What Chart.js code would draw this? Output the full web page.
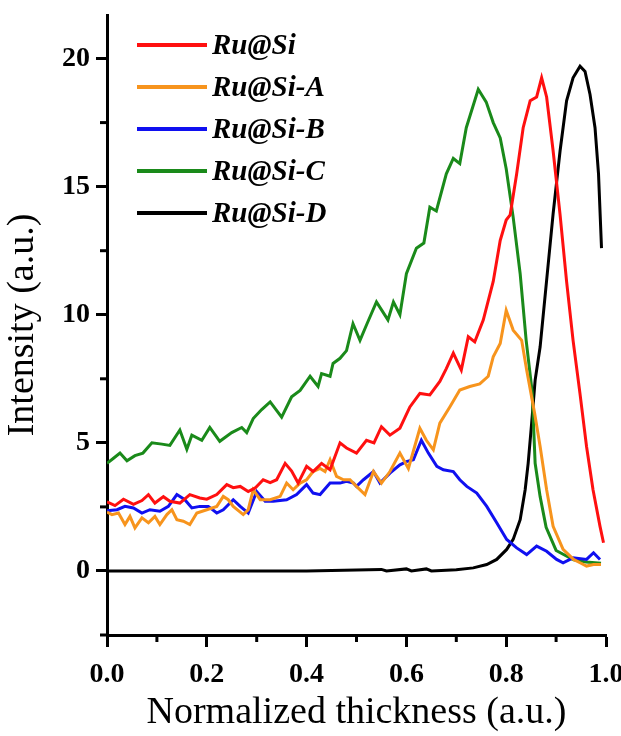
<!DOCTYPE html>
<html>
<head>
<meta charset="utf-8">
<script src="https://cdn.jsdelivr.net/npm/chart.js@4/dist/chart.umd.min.js"></script>
<style>
  html, body { margin: 0; padding: 0; background: #fff; }
  #wrap { width: 621px; height: 736px; }
</style>
</head>
<body>
<div id="wrap"><canvas id="thickStat"></canvas></div>
<script>
// series
let xRu  = [0.0, 0.016, 0.033, 0.053, 0.07, 0.083, 0.096, 0.113, 0.126, 0.146, 0.166, 0.186, 0.2, 0.22, 0.24, 0.253, 0.267, 0.283, 0.297, 0.313, 0.327, 0.34, 0.357, 0.37, 0.383, 0.4, 0.413, 0.43, 0.447, 0.467, 0.48, 0.5, 0.52, 0.535, 0.55, 0.567, 0.587, 0.607, 0.627, 0.647, 0.667, 0.68, 0.694, 0.71, 0.724, 0.737, 0.754, 0.774, 0.788, 0.8, 0.808, 0.821, 0.834, 0.848, 0.861, 0.871, 0.881, 0.894, 0.908, 0.921, 0.934, 0.948, 0.961, 0.974, 0.988, 0.995];
let yRu  = [2.7, 2.55, 2.8, 2.6, 2.75, 2.98, 2.65, 2.9, 2.72, 2.65, 2.98, 2.85, 2.8, 2.98, 3.37, 3.25, 3.3, 3.1, 3.24, 3.56, 3.45, 3.56, 4.2, 3.9, 3.43, 4.08, 3.88, 4.2, 3.95, 5.0, 4.8, 4.6, 5.1, 5.0, 5.63, 5.3, 5.57, 6.4, 6.93, 6.87, 7.4, 7.9, 8.5, 7.84, 9.14, 8.94, 9.79, 11.3, 12.9, 13.7, 13.9, 15.5, 17.3, 18.35, 18.5, 19.25, 18.5, 16.4, 13.9, 11.3, 9.0, 6.9, 4.86, 3.17, 1.74, 1.1];

let xRuA = [0.0, 0.01, 0.023, 0.036, 0.046, 0.056, 0.07, 0.083, 0.096, 0.106, 0.12, 0.13, 0.14, 0.153, 0.166, 0.18, 0.2, 0.22, 0.233, 0.243, 0.253, 0.273, 0.283, 0.293, 0.307, 0.327, 0.347, 0.36, 0.373, 0.387, 0.4, 0.413, 0.427, 0.437, 0.447, 0.46, 0.474, 0.487, 0.5, 0.517, 0.534, 0.55, 0.567, 0.587, 0.604, 0.627, 0.64, 0.654, 0.667, 0.687, 0.707, 0.727, 0.747, 0.764, 0.774, 0.788, 0.8, 0.814, 0.831, 0.841, 0.857, 0.868, 0.881, 0.894, 0.914, 0.935, 0.948, 0.961, 0.975, 0.99];
let yRuA = [2.3, 2.2, 2.26, 1.81, 2.13, 1.68, 2.07, 1.88, 2.13, 1.81, 2.2, 2.39, 2.0, 1.94, 1.81, 2.26, 2.39, 2.52, 2.91, 2.78, 2.52, 2.2, 2.39, 3.17, 2.78, 2.78, 2.91, 3.43, 3.17, 3.43, 3.56, 3.88, 4.0, 3.88, 4.34, 3.69, 3.56, 3.56, 3.3, 2.98, 3.88, 3.43, 3.88, 4.6, 4.0, 5.57, 5.1, 4.73, 5.77, 6.4, 7.06, 7.2, 7.3, 7.6, 8.36, 8.88, 10.17, 9.4, 9.0, 7.84, 6.15, 4.86, 3.17, 1.74, 0.84, 0.45, 0.32, 0.19, 0.25, 0.25];

let xRuB = [0.0, 0.02, 0.036, 0.053, 0.07, 0.086, 0.106, 0.123, 0.14, 0.156, 0.17, 0.186, 0.203, 0.22, 0.233, 0.253, 0.267, 0.283, 0.3, 0.317, 0.333, 0.36, 0.38, 0.4, 0.413, 0.427, 0.447, 0.467, 0.48, 0.494, 0.5, 0.514, 0.534, 0.547, 0.567, 0.587, 0.6, 0.614, 0.63, 0.644, 0.661, 0.674, 0.694, 0.707, 0.721, 0.741, 0.761, 0.781, 0.801, 0.821, 0.841, 0.861, 0.881, 0.901, 0.914, 0.934, 0.961, 0.975, 0.988];
let yRuB = [2.35, 2.39, 2.52, 2.46, 2.26, 2.39, 2.33, 2.52, 2.98, 2.78, 2.46, 2.52, 2.52, 2.26, 2.39, 2.78, 2.52, 2.26, 3.1, 2.72, 2.72, 2.78, 2.98, 3.37, 3.04, 2.98, 3.43, 3.43, 3.5, 3.43, 3.3, 3.56, 3.88, 3.43, 3.82, 4.14, 4.27, 4.34, 5.1, 4.6, 4.08, 3.95, 3.88, 3.56, 3.3, 3.04, 2.52, 1.88, 1.23, 0.9, 0.64, 0.97, 0.77, 0.45, 0.32, 0.51, 0.45, 0.71, 0.45];

let xRuC = [0.0, 0.013, 0.026, 0.04, 0.056, 0.072, 0.09, 0.11, 0.126, 0.146, 0.16, 0.17, 0.19, 0.206, 0.226, 0.25, 0.27, 0.28, 0.293, 0.31, 0.327, 0.35, 0.37, 0.387, 0.407, 0.423, 0.43, 0.447, 0.453, 0.467, 0.48, 0.493, 0.507, 0.52, 0.54, 0.563, 0.574, 0.587, 0.6, 0.62, 0.635, 0.647, 0.66, 0.68, 0.694, 0.707, 0.72, 0.744, 0.76, 0.774, 0.788, 0.8, 0.814, 0.828, 0.84, 0.852, 0.858, 0.868, 0.88, 0.9, 0.935, 0.96, 0.99];
let yRuC = [4.2, 4.4, 4.6, 4.3, 4.5, 4.6, 5.0, 4.95, 4.9, 5.5, 4.75, 5.3, 5.1, 5.6, 5.06, 5.4, 5.6, 5.4, 5.95, 6.3, 6.6, 6.0, 6.8, 7.05, 7.6, 7.2, 7.7, 7.6, 8.1, 8.3, 8.6, 9.65, 9.0, 9.6, 10.5, 9.8, 10.5, 10.0, 11.6, 12.6, 12.8, 14.2, 14.05, 15.5, 16.1, 15.9, 17.3, 18.8, 18.3, 17.5, 16.9, 15.7, 13.8, 11.6, 9.0, 7.0, 4.2, 2.9, 1.7, 0.8, 0.43, 0.35, 0.3];

let xRuD = [0.0, 0.2, 0.4, 0.55, 0.56, 0.6, 0.61, 0.64, 0.65, 0.7, 0.734, 0.761, 0.781, 0.801, 0.814, 0.828, 0.838, 0.844, 0.851, 0.858, 0.868, 0.881, 0.894, 0.908, 0.921, 0.934, 0.948, 0.958, 0.968, 0.978, 0.985, 0.991];
let yRuD = [0.0, 0.0, 0.0, 0.06, 0.0, 0.08, 0.0, 0.08, 0.0, 0.05, 0.12, 0.25, 0.45, 0.84, 1.23, 2.0, 3.17, 4.2, 5.77, 7.45, 8.75, 11.34, 13.94, 16.4, 18.35, 19.25, 19.7, 19.5, 18.6, 17.3, 15.5, 12.6];

let labels = ["Ru@Si", "Ru@Si-A", "Ru@Si-B", "Ru@Si-C", "Ru@Si-D"];
let colors = ["#ff1010", "#f7941d", "#1010f0", "#1a8a1a", "#000000"];

let xTicks = [0, 0.2, 0.4, 0.6, 0.8, 1.0];
let xMinor = [0.1, 0.3, 0.5, 0.7, 0.9];
let yTicks = [0, 5, 10, 15, 20];
let yMinor = [-2.5, 2.5, 7.5, 12.5, 17.5];

function toPoints(xs, ys) {
    let pts = [];
    for (let i = 0; i < xs.length; i++) {
        pts.push({x: xs[i], y: ys[i]});
    }
    return pts;
}

let allX = [xRu, xRuA, xRuB, xRuC, xRuD];
let allY = [yRu, yRuA, yRuB, yRuC, yRuD];
let datasets = [];
for (let i = 0; i < labels.length; i++) {
    datasets.push({
        label: labels[i],
        data: toPoints(allX[i], allY[i]),
        borderColor: colors[i],
        backgroundColor: colors[i],
        borderWidth: 3,
        pointRadius: 0,
        tension: 0,
        fill: false
    });
}

const serif = '"Liberation Serif", "Times New Roman", serif';

// minor ticks and the legend inside the plot
let extras = {
    id: 'extras',
    afterDraw(chart) {
        let ctx = chart.ctx;
        let xs = chart.scales.x, ys = chart.scales.y;
        let area = chart.chartArea;
        ctx.save();
        ctx.strokeStyle = '#000';
        ctx.lineWidth = 3;
        for (let v of xMinor) {
            let px = xs.getPixelForValue(v);
            ctx.beginPath();
            ctx.moveTo(px, area.bottom);
            ctx.lineTo(px, area.bottom + 7);
            ctx.stroke();
        }
        for (let v of yMinor) {
            let py = ys.getPixelForValue(v);
            ctx.beginPath();
            ctx.moveTo(area.left, py);
            ctx.lineTo(area.left - 7, py);
            ctx.stroke();
        }
        ctx.font = 'italic bold 29px ' + serif;
        ctx.textBaseline = 'middle';
        ctx.textAlign = 'left';
        for (let i = 0; i < chart.data.datasets.length; i++) {
            let ds = chart.data.datasets[i];
            let rowY = 45 + i * 42;
            ctx.strokeStyle = ds.borderColor;
            ctx.lineWidth = 4;
            ctx.beginPath();
            ctx.moveTo(137, rowY);
            ctx.lineTo(207, rowY);
            ctx.stroke();
            ctx.fillStyle = '#000';
            ctx.fillText(ds.label, 212, rowY + 2);
        }
        ctx.restore();
    }
};

let ctx = document.getElementById('thickStat').getContext('2d');
window.myLine = new Chart(ctx, {
    type: 'line',
    data: {datasets: datasets},
    plugins: [extras],
    options: {
        responsive: true,
        maintainAspectRatio: false,
        animation: false,
        layout: {padding: {top: 15, right: 15, left: 0, bottom: 0}},
        plugins: {
            legend: {display: false},
            tooltip: {enabled: false}
        },
        scales: {
            x: {
                type: 'linear',
                min: 0,
                max: 1.0,
                afterBuildTicks: function (scale) {
                    scale.ticks = xTicks.map(v => ({value: v}));
                },
                afterFit: function (scale) {
                    scale.height = 101;
                    scale.paddingRight = 0;
                    scale.paddingLeft = 0;
                },
                ticks: {
                    color: '#000',
                    font: {family: serif, size: 28, weight: 'bold'},
                    padding: 11,
                    maxRotation: 0,
                    callback: v => v.toFixed(1)
                },
                grid: {drawOnChartArea: false, tickLength: 12, tickWidth: 3, tickColor: '#000'},
                border: {color: '#000', width: 3},
                title: {
                    display: true,
                    text: 'Normalized thickness (a.u.)',
                    color: '#000',
                    font: {family: serif, size: 38},
                    padding: {top: 2, bottom: 0}
                }
            },
            y: {
                type: 'linear',
                min: -2.5,
                max: 21.7,
                afterBuildTicks: function (scale) {
                    scale.ticks = yTicks.map(v => ({value: v}));
                },
                afterFit: function (scale) {
                    scale.width = 107;
                    scale.paddingTop = 0;
                    scale.paddingBottom = 0;
                },
                ticks: {
                    color: '#000',
                    font: {family: serif, size: 28, weight: 'bold'},
                    padding: 6
                },
                grid: {drawOnChartArea: false, tickLength: 11, tickWidth: 3, tickColor: '#000'},
                border: {color: '#000', width: 3},
                title: {
                    display: true,
                    text: 'Intensity (a.u.)',
                    color: '#000',
                    font: {family: serif, size: 38},
                    padding: {top: 0, bottom: 0}
                }
            }
        }
    }
});
</script>
</body>
</html>
